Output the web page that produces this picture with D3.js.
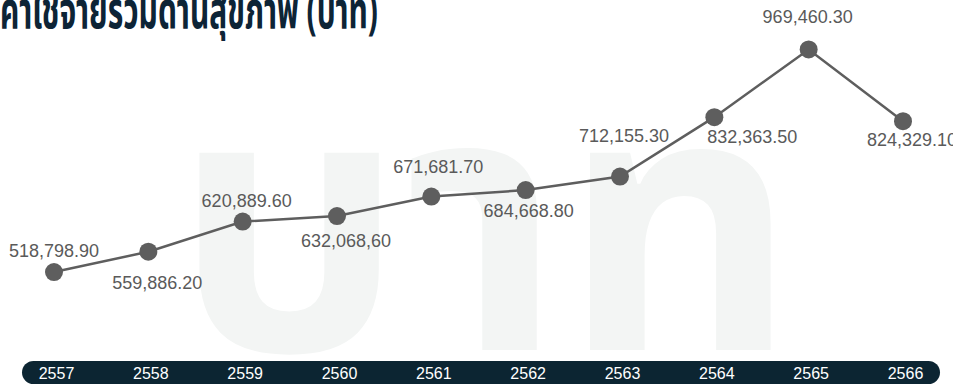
<!DOCTYPE html>
<html>
<head>
<meta charset="utf-8">
<script src="https://cdn.jsdelivr.net/npm/d3@7"></script>
<style>
  html, body { margin: 0; padding: 0; background: #ffffff; }
  svg { display: block; }
</style>
</head>
<body>
<svg id="chart" width="953" height="384"></svg>
<script>
// ---- data ----
const title = "ค่าใช้จ่ายรวมด้านสุขภาพ (บาท)";
const watermark = "บาท";
const years = ["2557", "2558", "2559", "2560", "2561", "2562", "2563", "2564", "2565", "2566"];
const values = [518798.90, 559886.20, 620889.60, 632068.60, 671681.70, 684668.80, 712155.30, 832363.50, 969460.30, 824329.10];
const valueLabels = ["518,798.90", "559,886.20", "620,889.60", "632,068,60", "671,681.70", "684,668.80", "712,155.30", "832,363.50", "969,460.30", "824,329.10"];

// ---- layout (label placement relative to each point: dx, dy) ----
const labelOffsets = [[0, -15], [9, 37], [4, -15], [9, 31], [7, -24], [3, 27], [4, -35], [38, 26], [-1, -26], [9, 25]];

const W = 953, H = 384;
const svg = d3.select("#chart");

const x = d3.scalePoint().domain(years).range([54, 903]).padding(0);
const y = d3.scaleLinear().domain([500000, 1000000]).range([281.3, 34.4]);

// watermark
svg.append("text")
  .attr("x", 174).attr("y", 350)
  .attr("textLength", 622).attr("lengthAdjust", "spacingAndGlyphs")
  .attr("font-family", "'Noto Sans Thai', 'Noto Sans', sans-serif")
  .attr("font-size", 360).attr("font-weight", 700)
  .attr("fill", "#f3f5f4")
  .text(watermark);

// title
svg.append("text")
  .attr("x", 0).attr("y", 28)
  .attr("textLength", 378).attr("lengthAdjust", "spacingAndGlyphs")
  .attr("font-family", "'Noto Sans Thai', 'Noto Sans', sans-serif")
  .attr("font-size", 52).attr("font-weight", 700)
  .attr("fill", "#0d2436")
  .text(title);

// x axis band
svg.append("rect")
  .attr("x", 22).attr("y", 361).attr("width", 918).attr("height", 23)
  .attr("rx", 11.5).attr("fill", "#0c2532");

const axis = d3.axisBottom(x).tickSize(0).tickPadding(0);
const gx = svg.append("g").attr("transform", "translate(2,379)").call(axis);
gx.select(".domain").remove();
gx.selectAll("text")
  .attr("dy", 0)
  .attr("fill", "#ffffff")
  .attr("font-family", "'Liberation Sans', Arial, sans-serif")
  .attr("font-size", 16);

// line
const line = d3.line().x((d, i) => x(years[i])).y(d => y(d));
svg.append("path")
  .datum(values)
  .attr("d", line)
  .attr("fill", "none")
  .attr("stroke", "#5e5e5e")
  .attr("stroke-width", 2.5);

// points
svg.selectAll("circle.pt")
  .data(values)
  .join("circle")
  .attr("class", "pt")
  .attr("cx", (d, i) => x(years[i]))
  .attr("cy", d => y(d))
  .attr("r", 9)
  .attr("fill", "#5e5e5e");

// value labels
svg.selectAll("text.lbl")
  .data(values)
  .join("text")
  .attr("class", "lbl")
  .attr("x", (d, i) => x(years[i]) + labelOffsets[i][0])
  .attr("y", (d, i) => y(d) + labelOffsets[i][1])
  .attr("text-anchor", "middle")
  .attr("font-family", "'Liberation Sans', Arial, sans-serif")
  .attr("font-size", 18)
  .attr("fill", "#5a5a5a")
  .text((d, i) => valueLabels[i]);
</script>
</body>
</html>
